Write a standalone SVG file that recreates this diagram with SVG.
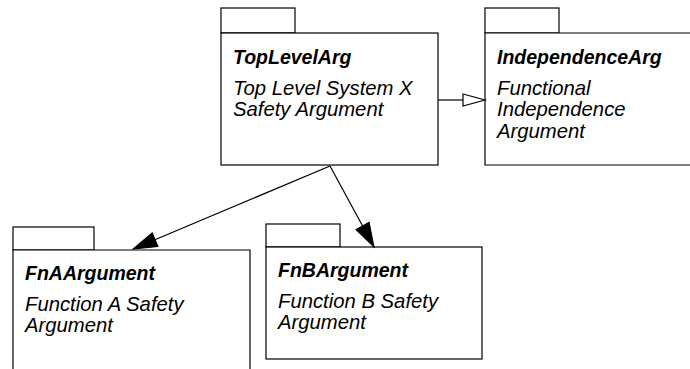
<svg xmlns="http://www.w3.org/2000/svg" width="690" height="369" viewBox="0 0 690 369">
<defs>
<style>
.box{fill:#fff;stroke:#000;stroke-width:1.2}
.t{font-family:"Liberation Sans",Arial,sans-serif;font-size:20.3px;font-style:italic;fill:#000}
.b{font-weight:bold;font-size:19.5px}
.c{fill:none;stroke:#000;stroke-width:1.2}
</style>
<marker id="hollow" markerUnits="userSpaceOnUse" markerWidth="24" markerHeight="14" refX="0" refY="6" orient="auto" overflow="visible">
<path d="M0,0 L22,6 L0,12 Z" fill="#fff" stroke="#000" stroke-width="1.2"/>
</marker>
<marker id="filled" markerUnits="userSpaceOnUse" markerWidth="26" markerHeight="16" refX="24" refY="7.5" orient="auto" overflow="visible">
<path d="M0,0 L24,7.5 L0,15 Z" fill="#000" stroke="#000" stroke-width="1"/>
</marker>
</defs>
<rect width="690" height="369" fill="#fff"/>
<g id="TopLevelArg">
<rect class="box" x="221" y="8" width="74" height="25"/>
<rect class="box" x="221" y="33" width="217" height="132"/>
<text class="t b" x="233" y="64">TopLevelArg</text>
<text class="t" x="233" y="95">Top Level System X</text>
<text class="t" x="233" y="116">Safety Argument</text>
</g>
<g id="IndependenceArg">
<rect class="box" x="485" y="8" width="74" height="25"/>
<path class="box" d="M700,33 H485 V165 H700"/>
<text class="t b" x="497" y="64">IndependenceArg</text>
<text class="t" x="497" y="95">Functional</text>
<text class="t" x="497" y="116">Independence</text>
<text class="t" x="497" y="138">Argument</text>
</g>
<g id="FnAArgument">
<rect class="box" x="13" y="227" width="81" height="23"/>
<path class="box" d="M13,375 V250 H250 V375"/>
<text class="t b" x="25" y="280">FnAArgument</text>
<text class="t" x="25" y="311">Function A Safety</text>
<text class="t" x="25" y="332">Argument</text>
</g>
<g id="FnBArgument">
<rect class="box" x="266" y="224" width="74" height="23"/>
<rect class="box" x="266" y="247" width="216" height="112"/>
<text class="t b" x="278" y="277">FnBArgument</text>
<text class="t" x="278" y="308">Function B Safety</text>
<text class="t" x="278" y="329">Argument</text>
</g>
<g id="connectors">
<line class="c" x1="438" y1="100" x2="463" y2="100" marker-end="url(#hollow)"/>
<line class="c" x1="330" y1="166" x2="133" y2="249" marker-end="url(#filled)"/>
<line class="c" x1="330" y1="166" x2="374" y2="247" marker-end="url(#filled)"/>
</g>
</svg>
